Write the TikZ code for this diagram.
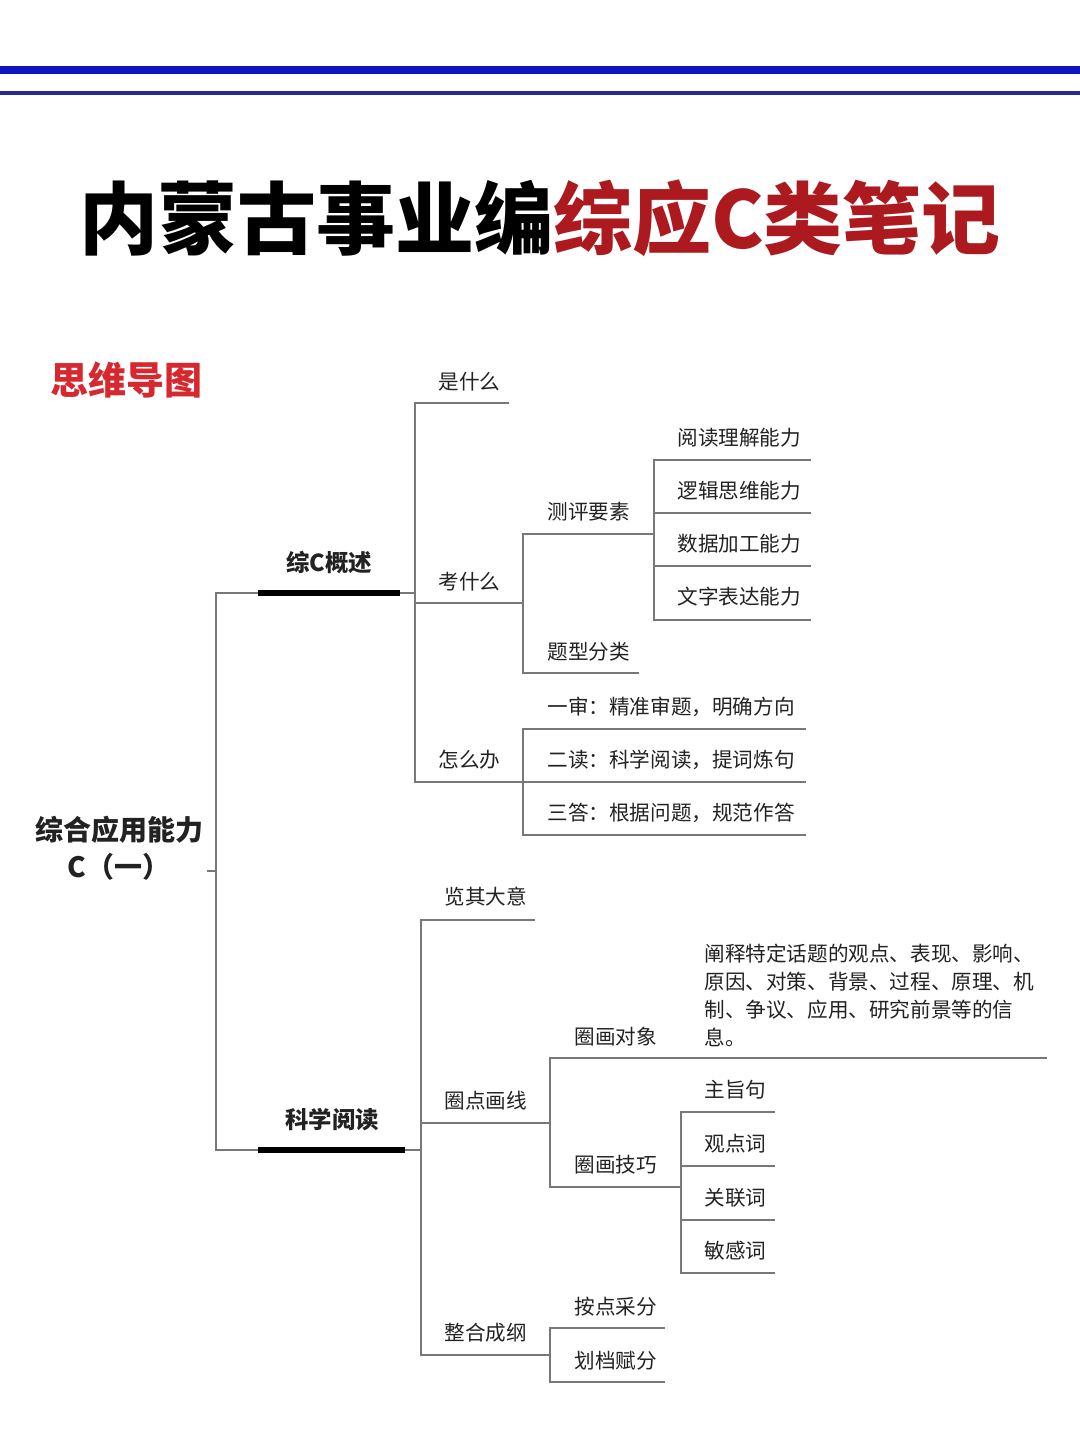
\documentclass[tikz,border=0pt]{standalone}
\usepackage{fontspec}
\setmainfont{Noto Sans CJK SC}
\usepackage{tikz}
\usetikzlibrary{calc, positioning}
\usepackage{xcolor}
\definecolor{barblue}{RGB}{14,22,196}
\definecolor{barnavy}{RGB}{36,42,150}
\definecolor{titlered}{RGB}{172,26,32}
\definecolor{mapred}{RGB}{214,40,46}
\definecolor{linegrey}{RGB}{120,120,120}
\definecolor{inkgrey}{RGB}{34,34,34}
\tikzset{
    mapline/.style={draw=linegrey, line width=0.8pt},
    mapbar/.style={draw=black, line width=3pt},
    maptext/.style={anchor=west, inner sep=0pt, text=inkgrey, font=\fontsize{10.3}{14}\selectfont},
    hubtext/.style={inner sep=0pt, text=inkgrey, font=\fontsize{11.7}{14}\selectfont\bfseries},
    roottext/.style={inner sep=0pt, align=center, text=inkgrey, font=\fontsize{14}{18.5}\selectfont\bfseries}
}
\begin{document}
\begin{tikzpicture}[x=0.5pt,y=-0.5pt]
    \fill[white] (0,0) rectangle (1080,1440);
    \useasboundingbox (0,0) rectangle (1080,1440);

    % Header bars and title
    \draw[barblue, line width=4pt] (0,70) -- (1080,70);
    \draw[barnavy, line width=2pt] (0,93) -- (1080,93);
    \node[inner sep=0pt, font=\fontsize{39.5}{44}\selectfont\bfseries] (title) at (540,218)
        {内蒙古事业编\textcolor{titlered}{综应C类笔记}};
    \node[inner sep=0pt, anchor=west, text=mapred, font=\fontsize{19}{22}\selectfont\bfseries] (mmap) at (50,380) {思维导图};

    % Root
    \node[roottext] (root) at (119,848) {综合应用能力\\C（一）};
    \coordinate (rootS) at (207,871);
    \coordinate (rootT) at (216,871);

    % Level 1
    \node[hubtext] (gaishu) at (329,563) {综C概述};
    \node[hubtext] (kexue)  at (332,1120) {科学阅读};
    \coordinate (gsL) at (216,593);  \coordinate (gsR) at (415,593);
    \coordinate (gsA) at (258,593);  \coordinate (gsB) at (400,593);
    \coordinate (kxL) at (216,1150); \coordinate (kxR) at (421,1150);
    \coordinate (kxA) at (258,1150); \coordinate (kxB) at (405,1150);

    % Level 2 under 综C概述
    \node[maptext] (shi) at (438,382) {是什么};
    \node[maptext] (kao) at (438,582) {考什么};
    \node[maptext] (zen) at (438,760) {怎么办};
    \coordinate (shiL) at (415,403); \coordinate (shiR) at (509,403);
    \coordinate (kaoL) at (415,603); \coordinate (kaoR) at (523,603);
    \coordinate (zenL) at (415,782); \coordinate (zenR) at (523,782);

    % Level 3 under 考什么
    \node[maptext] (ceping) at (547,512) {测评要素};
    \node[maptext] (tixing) at (547,652) {题型分类};
    \coordinate (cepingL) at (523,534); \coordinate (cepingR) at (654,534);
    \coordinate (tixingL) at (523,673); \coordinate (tixingR) at (639,673);

    % Level 4 under 测评要素
    \node[maptext] (yuedu) at (677,438) {阅读理解能力};
    \node[maptext] (luoji) at (677,491) {逻辑思维能力};
    \node[maptext] (shuju) at (677,544) {数据加工能力};
    \node[maptext] (wenzi) at (677,597) {文字表达能力};
    \coordinate (yueduL) at (654,460); \coordinate (yueduR) at (811,460);
    \coordinate (luojiL) at (654,513); \coordinate (luojiR) at (811,513);
    \coordinate (shujuL) at (654,566); \coordinate (shujuR) at (811,566);
    \coordinate (wenziL) at (654,620); \coordinate (wenziR) at (811,620);

    % Level 3 under 怎么办
    \node[maptext] (yishen) at (547,707) {一审：精准审题，明确方向};
    \node[maptext] (erdu)   at (547,760) {二读：科学阅读，提词炼句};
    \node[maptext] (danda)  at (547,813) {三答：根据问题，规范作答};
    \coordinate (yishenL) at (523,729); \coordinate (yishenR) at (806,729);
    \coordinate (erduL)   at (523,782); \coordinate (erduR)   at (806,782);
    \coordinate (sandaL)  at (523,835); \coordinate (sandaR)  at (806,835);

    % Level 2 under 科学阅读
    \node[maptext] (lanqi)   at (444,897)  {览其大意};
    \node[maptext] (quandian) at (444,1101) {圈点画线};
    \node[maptext] (zhenghe) at (444,1333) {整合成纲};
    \coordinate (lanqiL)    at (421,920);  \coordinate (lanqiR)    at (535,920);
    \coordinate (quandianL) at (421,1123); \coordinate (quandianR) at (550,1123);
    \coordinate (zhengheL)  at (421,1355); \coordinate (zhengheR)  at (550,1355);

    % Level 3 under 圈点画线
    \node[maptext] (duixiang) at (574,1037) {圈画对象};
    \node[maptext] (jiqiao)   at (574,1165) {圈画技巧};
    \coordinate (duixiangL) at (550,1058); \coordinate (duixiangR) at (681,1058);
    \coordinate (jiqiaoL)   at (550,1187); \coordinate (jiqiaoR)   at (681,1187);

    % Level 4 under 圈画对象 / 圈画技巧
    \node[maptext, align=left] (chanshi) at (704,995)
        {阐释特定话题的观点、表现、影响、\\原因、对策、背景、过程、原理、机\\制、争议、应用、研究前景等的信\\息。};
    \coordinate (chanshiL) at (681,1058); \coordinate (chanshiR) at (1047,1058);
    \node[maptext] (zhuzhi)  at (704,1090) {主旨句};
    \node[maptext] (guandian) at (704,1144) {观点词};
    \node[maptext] (guanlian) at (704,1198) {关联词};
    \node[maptext] (mingan)  at (704,1251) {敏感词};
    \coordinate (zhuzhiL)   at (681,1112); \coordinate (zhuzhiR)   at (775,1112);
    \coordinate (guandianL) at (681,1166); \coordinate (guandianR) at (775,1166);
    \coordinate (guanlianL) at (681,1220); \coordinate (guanlianR) at (775,1220);
    \coordinate (minganL)   at (681,1273); \coordinate (minganR)   at (775,1273);

    % Level 3 under 整合成纲
    \node[maptext] (andian)  at (574,1307) {按点采分};
    \node[maptext] (huadang) at (574,1361) {划档赋分};
    \coordinate (andianL)  at (550,1328); \coordinate (andianR)  at (665,1328);
    \coordinate (huadangL) at (550,1382); \coordinate (huadangR) at (665,1382);

    % Connectors
    \draw[mapline] (rootS) -- (rootT);
    \draw[mapline] (rootT) |- (gsL) -- (gsR);
    \draw[mapline] (rootT) |- (kxL) -- (kxR);
    \draw[mapbar] (gsA) -- (gsB);
    \draw[mapbar] (kxA) -- (kxB);

    \draw[mapline] (gsR) |- (shiL) -- (shiR);
    \draw[mapline] (gsR) |- (kaoL) -- (kaoR);
    \draw[mapline] (gsR) |- (zenL) -- (zenR);

    \draw[mapline] (kaoR) |- (cepingL) -- (cepingR);
    \draw[mapline] (kaoR) |- (tixingL) -- (tixingR);
    \draw[mapline] (cepingR) |- (yueduL) -- (yueduR);
    \draw[mapline] (cepingR) |- (luojiL) -- (luojiR);
    \draw[mapline] (cepingR) |- (shujuL) -- (shujuR);
    \draw[mapline] (cepingR) |- (wenziL) -- (wenziR);

    \draw[mapline] (zenR) |- (yishenL) -- (yishenR);
    \draw[mapline] (zenR) |- (erduL) -- (erduR);
    \draw[mapline] (zenR) |- (sandaL) -- (sandaR);

    \draw[mapline] (kxR) |- (lanqiL) -- (lanqiR);
    \draw[mapline] (kxR) |- (quandianL) -- (quandianR);
    \draw[mapline] (kxR) |- (zhengheL) -- (zhengheR);

    \draw[mapline] (quandianR) |- (duixiangL) -- (duixiangR);
    \draw[mapline] (quandianR) |- (jiqiaoL) -- (jiqiaoR);
    \draw[mapline] (duixiangR) -- (chanshiR);
    \draw[mapline] (jiqiaoR) |- (zhuzhiL) -- (zhuzhiR);
    \draw[mapline] (jiqiaoR) |- (guandianL) -- (guandianR);
    \draw[mapline] (jiqiaoR) |- (guanlianL) -- (guanlianR);
    \draw[mapline] (jiqiaoR) |- (minganL) -- (minganR);

    \draw[mapline] (zhengheR) |- (andianL) -- (andianR);
    \draw[mapline] (zhengheR) |- (huadangL) -- (huadangR);
\end{tikzpicture}
\end{document}
